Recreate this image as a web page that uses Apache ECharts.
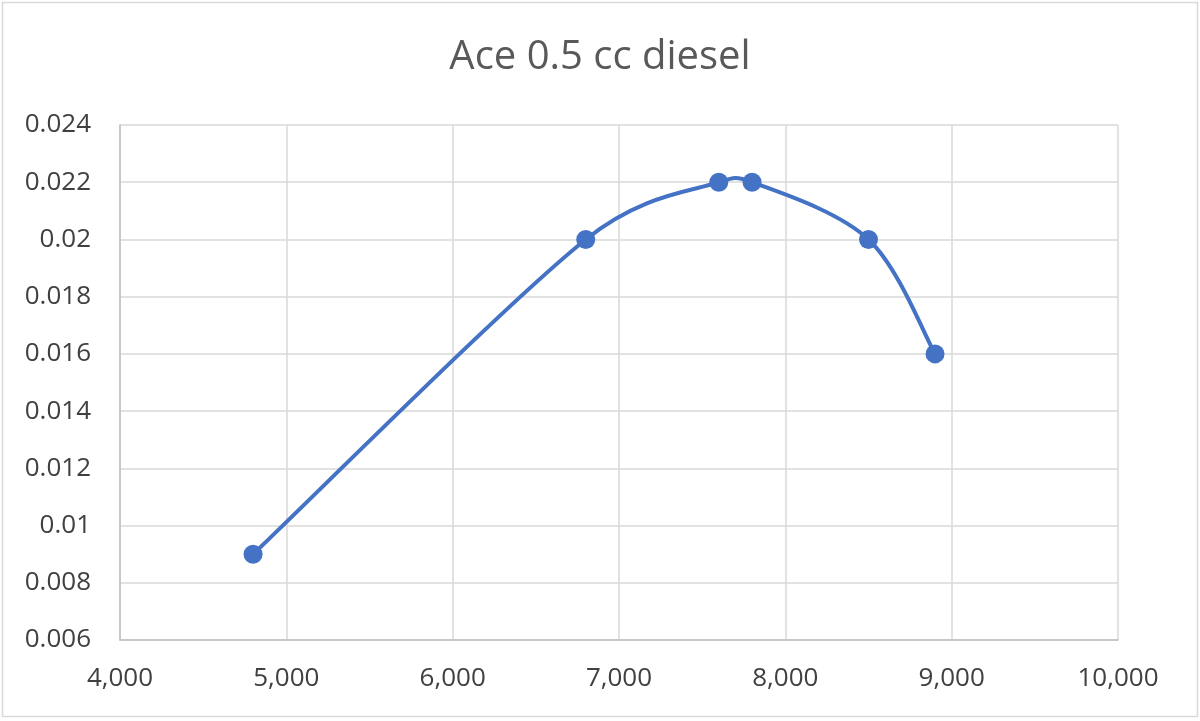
<!DOCTYPE html>
<html>
<head>
<meta charset="utf-8">
<script src="https://cdn.jsdelivr.net/npm/echarts@6/dist/echarts.min.js"></script>
<style>
html,body{margin:0;padding:0;background:#fff;}
#c{width:1200px;height:721px;}
</style>
</head>
<body>
<div id="c"></div>
<script>
const titleText = "Ace 0.5 cc diesel";
const rpm = [4800, 6800, 7600, 7800, 8500, 8900];
const values = [0.009, 0.020, 0.022, 0.022, 0.020, 0.016];

// Excel-like smoothed line: Catmull-Rom tangents (1/6) limited to half the segment length
function smoothPath(pts) {
  const n = pts.length;
  const dist = (a, b) => Math.hypot(a[0] - b[0], a[1] - b[1]);
  function tangent(i) {
    const prev = pts[Math.max(i - 1, 0)];
    const next = pts[Math.min(i + 1, n - 1)];
    return [next[0] - prev[0], next[1] - prev[1]];
  }
  let d = 'M' + pts[0][0] + ' ' + pts[0][1];
  for (let i = 0; i < n - 1; i++) {
    const p1 = pts[i], p2 = pts[i + 1];
    const seg = dist(p1, p2);
    const t1 = tangent(i), t2 = tangent(i + 1);
    const l1 = Math.hypot(t1[0], t1[1]) || 1, l2 = Math.hypot(t2[0], t2[1]) || 1;
    const f1 = Math.min(1 / 6, seg / 2 / l1), f2 = Math.min(1 / 6, seg / 2 / l2);
    const a = [p1[0] + t1[0] * f1, p1[1] + t1[1] * f1];
    const b = [p2[0] - t2[0] * f2, p2[1] - t2[1] * f2];
    d += ' C' + a[0] + ' ' + a[1] + ' ' + b[0] + ' ' + b[1] + ' ' + p2[0] + ' ' + p2[1];
  }
  return d;
}

const chart = echarts.init(document.getElementById('c'));
chart.setOption({
  animation: false,
  backgroundColor: '#ffffff',
  title: {
    text: titleText,
    left: 'center',
    top: 33,
    textStyle: {fontFamily: 'Open Sans', fontSize: 40, fontWeight: 'normal', color: '#595959'}
  },
  graphic: [{
    type: 'rect',
    shape: {x: 2.5, y: 2.5, width: 1195, height: 714},
    style: {fill: 'none', stroke: '#d9d9d9', lineWidth: 1.5},
    silent: true
  }],
  grid: {left: 120, right: 82, top: 125, bottom: 81, containLabel: false},
  xAxis: {
    type: 'value',
    min: 4000, max: 10000, interval: 1000,
    axisLine: {show: true, lineStyle: {color: '#bfbfbf', width: 1.5}},
    axisTick: {show: false},
    splitLine: {show: true, lineStyle: {color: '#d9d9d9', width: 1.5}},
    axisLabel: {
      margin: 26, color: '#404040', fontFamily: 'Open Sans', fontSize: 26,
      formatter: v => v.toLocaleString('en-US')
    }
  },
  yAxis: {
    type: 'value',
    min: 0.006, max: 0.024, interval: 0.002,
    axisLine: {show: true, lineStyle: {color: '#bfbfbf', width: 1.5}},
    axisTick: {show: false},
    splitLine: {show: true, lineStyle: {color: '#d9d9d9', width: 1.5}},
    axisLabel: {
      margin: 29, color: '#404040', fontFamily: 'Open Sans', fontSize: 26,
      formatter: v => String(parseFloat(v.toFixed(3)))
    }
  },
  series: [{
    type: 'custom',
    data: [[rpm[0], values[0]]],
    z: 2,
    silent: true,
    renderItem: function (params, api) {
      const pts = rpm.map((x, i) => api.coord([x, values[i]]));
      return {
        type: 'path',
        shape: {pathData: smoothPath(pts)},
        style: {fill: 'none', stroke: '#4472C4', lineWidth: 4}
      };
    }
  }, {
    type: 'scatter',
    z: 3,
    data: rpm.map((x, i) => [x, values[i]]),
    symbol: 'circle',
    symbolSize: 19,
    itemStyle: {color: '#4472C4', opacity: 1}
  }]
});
</script>
</body>
</html>
